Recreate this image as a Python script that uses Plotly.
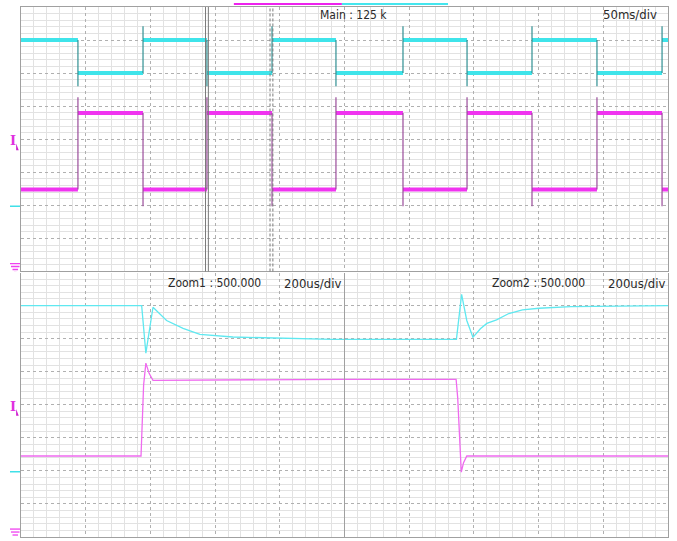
import plotly.graph_objects as go

# ---------------- data (screen divisions) ----------------
# Main window: 10 div x 50 ms/div
main_span_ms = 500
edge_ms = [44.0, 94.3, 143.7, 194.0, 243.4, 295.2, 344.7, 394.9, 445.1, 495.4]
cyan_hi, cyan_lo = 3.0, 2.0
mag_hi, mag_lo = 0.79, -1.52
cyan_rise_peak, cyan_fall_dip = 3.42, 1.6
mag_rise_peak, mag_fall_dip = 1.27, -2.03

# Zoom windows: 5 div x 200 us/div
zoom_span_us = 1000
z1_cyan_t = [0, 373, 386, 408, 450, 501, 553, 655, 964, 1000]
z1_cyan_v = [3.0, 3.0, 1.56, 2.95, 2.55, 2.31, 2.13, 2.05, 1.98, 1.98]
z1_mag_t = [0, 371, 379, 386, 396, 408, 1000]
z1_mag_v = [-1.55, -1.55, 0.6, 1.26, 0.95, 0.74, 0.77]
z2_cyan_t = [0, 346, 362, 378, 397, 420, 440, 470, 508, 550, 601, 700, 1000]
z2_cyan_v = [1.98, 1.98, 3.34, 2.55, 2.04, 2.3, 2.46, 2.57, 2.76, 2.87, 2.92, 2.97, 3.0]
z2_mag_t = [0, 345, 350, 361, 368, 378, 1000]
z2_mag_v = [0.77, 0.77, 0.2, -2.04, -1.75, -1.55, -1.55]

# zoom positions on the main time base (ms)
zoom1_pos_ms = 143.7
zoom2_pos_ms = 193.55
cursor_halfgap_ms = 1.1

# channel markers (div)
mag_offset_div = -0.33
cyan_offset_div = -2.03
ground_div = -3.88

labels_top = ["Main : 125 k", "50ms/div"]
labels_z1 = ["Zoom1 : 500.000", "200us/div"]
labels_z2 = ["Zoom2 : 500.000", "200us/div"]

# ---------------- colours ----------------
C_CYAN = "#3fe4ea"
C_CYAN_EDGE = "#2f8f92"
C_MAG = "#f034f0"
C_MAG_EDGE = "#9a4c9a"
C_CYAN_Z = "#5fe8f0"
C_MAG_Z = "#ef6aef"
FONT = "DejaVu Sans Condensed, Liberation Sans Narrow, Liberation Sans, sans-serif"

# ---------------- build main-window traces ----------------
bounds = [0] + edge_ms + [main_span_ms]
cx, cy, mx, my = [], [], [], []
for i in range(len(bounds) - 1):
    cl = cyan_hi if i % 2 == 0 else cyan_lo
    ml = mag_lo if i % 2 == 0 else mag_hi
    cx += [bounds[i], bounds[i + 1], None]
    cy += [cl, cl, None]
    mx += [bounds[i], bounds[i + 1], None]
    my += [ml, ml, None]

cex, cey, mex, mey = [], [], [], []
for i, t in enumerate(edge_ms):
    if i % 2 == 0:  # cyan falls, magenta rises
        cex += [t, t, None]; cey += [cyan_hi, cyan_fall_dip, None]
        mex += [t, t, None]; mey += [mag_lo, mag_rise_peak, None]
    else:           # cyan rises, magenta falls
        cex += [t, t, None]; cey += [cyan_lo, cyan_rise_peak, None]
        mex += [t, t, None]; mey += [mag_hi, mag_fall_dip, None]

fig = go.Figure()
fig.add_trace(go.Scatter(x=mx, y=my, mode="lines", line=dict(color=C_MAG, width=4), xaxis="x", yaxis="y"))
fig.add_trace(go.Scatter(x=mex, y=mey, mode="lines", line=dict(color=C_MAG_EDGE, width=1.2), xaxis="x", yaxis="y"))
fig.add_trace(go.Scatter(x=cx, y=cy, mode="lines", line=dict(color=C_CYAN, width=4), xaxis="x", yaxis="y"))
fig.add_trace(go.Scatter(x=cex, y=cey, mode="lines", line=dict(color=C_CYAN_EDGE, width=1.2), xaxis="x", yaxis="y"))

fig.add_trace(go.Scatter(x=z1_mag_t, y=z1_mag_v, mode="lines", line=dict(color=C_MAG_Z, width=1.3), xaxis="x2", yaxis="y2"))
fig.add_trace(go.Scatter(x=z1_cyan_t, y=z1_cyan_v, mode="lines", line=dict(color=C_CYAN_Z, width=1.3), xaxis="x2", yaxis="y2"))
fig.add_trace(go.Scatter(x=z2_mag_t, y=z2_mag_v, mode="lines", line=dict(color=C_MAG_Z, width=1.3), xaxis="x3", yaxis="y3"))
fig.add_trace(go.Scatter(x=z2_cyan_t, y=z2_cyan_v, mode="lines", line=dict(color=C_CYAN_Z, width=1.3), xaxis="x3", yaxis="y3"))

grid = dict(showgrid=True, gridcolor="#b0b0b0", griddash="dot", gridwidth=1,
            zeroline=False, showticklabels=False, ticks="", automargin=False,
            showline=True, mirror=True, linecolor="#a0a0a0", linewidth=1.3, fixedrange=True)
minor = dict(showgrid=True, gridcolor="#e2e2e2", gridwidth=1, griddash="solid")

def xgrid(span, ndiv, dom, anchor, mirror=True):
    return dict(grid, range=[0, span], dtick=span / ndiv,
                minor=dict(minor, dtick=span / (ndiv * 5)),
                domain=dom, anchor=anchor, mirror=mirror)

def ygrid(dom, anchor, mirror=True):
    return dict(grid, range=[-4, 4], dtick=1,
                minor=dict(minor, dtick=0.2),
                domain=dom, anchor=anchor, mirror=mirror)

top_dom = [0.501, 1.0]
bot_dom = [0.0, 0.499]
fig.update_layout(
    width=677, height=541,
    margin=dict(l=21, r=9, t=7, b=4),
    paper_bgcolor="white", plot_bgcolor="white",
    showlegend=False,
    xaxis=xgrid(main_span_ms, 10, [0, 1], "y"),
    yaxis=ygrid(top_dom, "x"),
    xaxis2=xgrid(zoom_span_us, 5, [0, 0.5], "y2", mirror=False),
    yaxis2=ygrid(bot_dom, "x2", mirror=False),
    xaxis3=xgrid(zoom_span_us, 5, [0.5, 1], "y3", mirror=False),
    yaxis3=ygrid(bot_dom, "x3"),
)

shapes = []
# zoom cursors on main window
for pos, dash in [(zoom1_pos_ms, "solid"), (zoom2_pos_ms, "3px,2px")]:
    for s in (-1, 1):
        t = pos + s * cursor_halfgap_ms
        shapes.append(dict(type="line", xref="x", yref="y domain", x0=t, x1=t, y0=0, y1=1,
                           line=dict(color="#7a7a7a", width=1, dash=dash)))
# display-position bar above the screen
shapes.append(dict(type="line", xref="paper", yref="paper", x0=0.329, x1=0.496, y0=1.0057, y1=1.0057,
                   line=dict(color="#ee22ee", width=2)))
shapes.append(dict(type="line", xref="paper", yref="paper", x0=0.496, x1=0.66, y0=1.0057, y1=1.0057,
                   line=dict(color="#44e6ee", width=2)))

# channel markers at the left edge
mx0, mx1 = -0.0170, -0.0015
for yref in ("y", "y2"):
    shapes.append(dict(type="line", xref="paper", yref=yref, x0=mx0, x1=mx1, y0=cyan_offset_div, y1=cyan_offset_div,
                       line=dict(color="#40e0e8", width=1.5)))
    for k, (a, b) in enumerate([(0.0, 1.0), (0.1, 0.95), (0.25, 0.8), (0.4, 0.65)]):
        yy = ground_div + 0.12 - k * 0.09
        shapes.append(dict(type="line", xref="paper", yref=yref,
                           x0=mx0 + a * (mx1 - mx0), x1=mx0 + b * (mx1 - mx0), y0=yy, y1=yy,
                           line=dict(color="#f040f0", width=1.3)))
    shapes.append(dict(type="path", xref="paper", yref=yref,
                       path=f"M {-0.0075} {mag_offset_div} L {-0.0035} {mag_offset_div} L {-0.0075} {mag_offset_div + 0.2} Z",
                       fillcolor="#d020d0", line=dict(width=0)))
fig.update_layout(shapes=shapes)

ann = []
def label(text, x, y, xanchor="left", size=12):
    ann.append(dict(text=text, xref="paper", yref="paper", x=x, y=y, xanchor=xanchor, yanchor="middle",
                    showarrow=False, font=dict(family=FONT, size=size, color="#2a2a2a")))
label(labels_top[0], 0.459, 0.985)
label(labels_top[1], 0.986, 0.985, xanchor="right", size=13)
label(labels_z1[0], 0.224, 0.479)
label(labels_z1[1], 0.403, 0.479, size=13)
label(labels_z2[0], 0.725, 0.479)
label(labels_z2[1], 0.904, 0.479, size=13)
for yref in ("y", "y2"):
    ann.append(dict(text="<b>I</b>", xref="paper", yref=yref, x=-0.0125, y=mag_offset_div, xanchor="center",
                    yanchor="bottom", showarrow=False,
                    font=dict(family="DejaVu Serif, serif", size=13, color="#e030e0")))
fig.update_layout(annotations=ann)

fig.write_html("out.html", config={"displayModeBar": False},
               post_script="document.body.style.margin='0';document.body.style.padding='0';")
